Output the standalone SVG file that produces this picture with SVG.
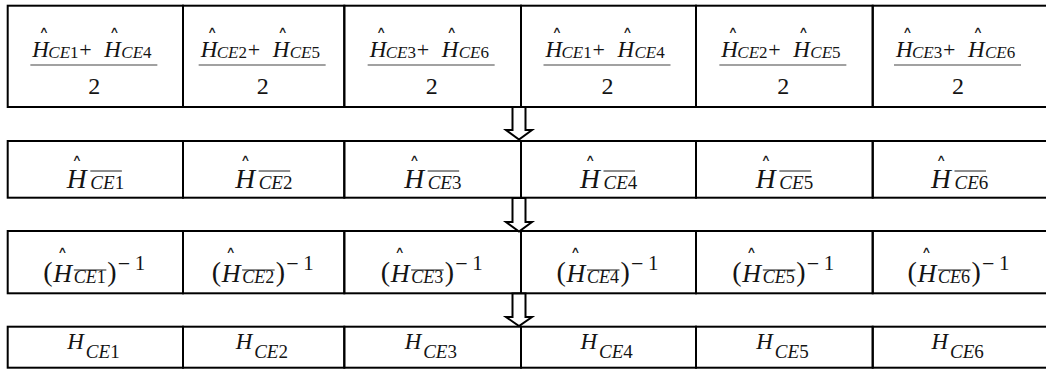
<svg xmlns="http://www.w3.org/2000/svg" width="1046" height="369" viewBox="0 0 1046 369">
<style>
.cell{fill:none;stroke:#000;stroke-width:2}
text{font-family:"Liberation Serif","Times New Roman",serif;fill:#141414}
.h{font-style:italic}
.s{font-style:italic}
.d{font-style:normal}
.hat{font-family:"DejaVu Sans",sans-serif;font-size:9px;text-anchor:middle}
.bar{stroke:#444;stroke-width:1.2}
.ol{stroke:#1a1a1a;stroke-width:1}
.arrow{fill:#fff;stroke:#000;stroke-width:2;stroke-linejoin:miter}
.r1h{font-size:23px}.r1s{font-size:17px}.r1op{font-size:22px}.r1den{font-size:24px;text-anchor:middle}
.r2h{font-size:27.5px}.r2s{font-size:19px}
.r3h{font-size:26px}.r3s{font-size:18px}.r3p{font-size:28px}.r3m{font-size:22px}.r3e{font-size:21px}
.r4h{font-size:23px}.r4s{font-size:19px}
</style>
<defs>
<g id="r1frame">
<line class="bar" x1="-63.5" y1="65" x2="63.5" y2="65"/>
<text class="r1den" x="0.5" y="94">2</text>
<text class="hat" transform="translate(-50,33) scale(1.5,1)">∧</text>
<text class="hat" transform="translate(20.5,33) scale(1.5,1)">∧</text>
</g>
<g id="r2frame">
<text class="hat" transform="translate(-18.3,161) scale(1.5,1)">∧</text>
<line class="ol" x1="-5" y1="171" x2="26.5" y2="171"/>
</g>
<g id="r3frame">
<text class="hat" transform="translate(-33,253) scale(1.5,1)">∧</text>
<line class="ol" x1="-21.5" y1="270" x2="11" y2="270"/>
</g>
</defs>
<rect width="1046" height="369" fill="#fff"/>

<!-- Row 1 -->
<g id="r1c1">
<rect class="cell" x="7.7" y="5.7" width="175.3" height="101.3"/>
<g transform="translate(93.85,0)">
<text><tspan class="h r1h" x="-61.5" y="57">H</tspan><tspan class="s r1s" x="-45.5" y="58">CE<tspan class="d">1</tspan></tspan><tspan class="r1op" x="-14.5" y="57">+</tspan><tspan class="h r1h" x="10.5" y="57">H</tspan><tspan class="s r1s" x="27.5" y="58">CE<tspan class="d">4</tspan></tspan></text>
<use href="#r1frame"/>
</g>
</g>
<g id="r1c2">
<rect class="cell" x="183" y="5.7" width="161.3" height="101.3"/>
<g transform="translate(262.15,0)">
<text><tspan class="h r1h" x="-61.5" y="57">H</tspan><tspan class="s r1s" x="-45.5" y="58">CE<tspan class="d">2</tspan></tspan><tspan class="r1op" x="-14.5" y="57">+</tspan><tspan class="h r1h" x="10.5" y="57">H</tspan><tspan class="s r1s" x="27.5" y="58">CE<tspan class="d">5</tspan></tspan></text>
<use href="#r1frame"/>
</g>
</g>
<g id="r1c3">
<rect class="cell" x="344.3" y="5.7" width="176.7" height="101.3"/>
<g transform="translate(431.15,0)">
<text><tspan class="h r1h" x="-61.5" y="57">H</tspan><tspan class="s r1s" x="-45.5" y="58">CE<tspan class="d">3</tspan></tspan><tspan class="r1op" x="-14.5" y="57">+</tspan><tspan class="h r1h" x="10.5" y="57">H</tspan><tspan class="s r1s" x="27.5" y="58">CE<tspan class="d">6</tspan></tspan></text>
<use href="#r1frame"/>
</g>
</g>
<g id="r1c4">
<rect class="cell" x="521" y="5.7" width="175" height="101.3"/>
<g transform="translate(607,0)">
<text><tspan class="h r1h" x="-61.5" y="57">H</tspan><tspan class="s r1s" x="-45.5" y="58">CE<tspan class="d">1</tspan></tspan><tspan class="r1op" x="-14.5" y="57">+</tspan><tspan class="h r1h" x="10.5" y="57">H</tspan><tspan class="s r1s" x="27.5" y="58">CE<tspan class="d">4</tspan></tspan></text>
<use href="#r1frame"/>
</g>
</g>
<g id="r1c5">
<rect class="cell" x="696" y="5.7" width="176.7" height="101.3"/>
<g transform="translate(782.85,0)">
<text><tspan class="h r1h" x="-61.5" y="57">H</tspan><tspan class="s r1s" x="-45.5" y="58">CE<tspan class="d">2</tspan></tspan><tspan class="r1op" x="-14.5" y="57">+</tspan><tspan class="h r1h" x="10.5" y="57">H</tspan><tspan class="s r1s" x="27.5" y="58">CE<tspan class="d">5</tspan></tspan></text>
<use href="#r1frame"/>
</g>
</g>
<g id="r1c6">
<rect class="cell" x="872.7" y="5.7" width="175.3" height="101.3"/>
<g transform="translate(957.5,0)">
<text><tspan class="h r1h" x="-61.5" y="57">H</tspan><tspan class="s r1s" x="-45.5" y="58">CE<tspan class="d">3</tspan></tspan><tspan class="r1op" x="-14.5" y="57">+</tspan><tspan class="h r1h" x="10.5" y="57">H</tspan><tspan class="s r1s" x="27.5" y="58">CE<tspan class="d">6</tspan></tspan></text>
<use href="#r1frame"/>
</g>
</g>

<!-- Row 2 -->
<g id="r2c1">
<rect class="cell" x="7.7" y="141" width="175.3" height="56.7"/>
<g transform="translate(95.35,0)"><text><tspan class="h r2h" x="-28.5" y="188">H</tspan><tspan class="s r2s" x="-5" y="189">CE<tspan class="d">1</tspan></tspan></text><use href="#r2frame"/></g>
</g>
<g id="r2c2">
<rect class="cell" x="183" y="141" width="161.3" height="56.7"/>
<g transform="translate(263.65,0)"><text><tspan class="h r2h" x="-28.5" y="188">H</tspan><tspan class="s r2s" x="-5" y="189">CE<tspan class="d">2</tspan></tspan></text><use href="#r2frame"/></g>
</g>
<g id="r2c3">
<rect class="cell" x="344.3" y="141" width="176.7" height="56.7"/>
<g transform="translate(432.65,0)"><text><tspan class="h r2h" x="-28.5" y="188">H</tspan><tspan class="s r2s" x="-5" y="189">CE<tspan class="d">3</tspan></tspan></text><use href="#r2frame"/></g>
</g>
<g id="r2c4">
<rect class="cell" x="521" y="141" width="175" height="56.7"/>
<g transform="translate(608.5,0)"><text><tspan class="h r2h" x="-28.5" y="188">H</tspan><tspan class="s r2s" x="-5" y="189">CE<tspan class="d">4</tspan></tspan></text><use href="#r2frame"/></g>
</g>
<g id="r2c5">
<rect class="cell" x="696" y="141" width="176.7" height="56.7"/>
<g transform="translate(784.35,0)"><text><tspan class="h r2h" x="-28.5" y="188">H</tspan><tspan class="s r2s" x="-5" y="189">CE<tspan class="d">5</tspan></tspan></text><use href="#r2frame"/></g>
</g>
<g id="r2c6">
<rect class="cell" x="872.7" y="141" width="175.3" height="56.7"/>
<g transform="translate(959.5,0)"><text><tspan class="h r2h" x="-28.5" y="188">H</tspan><tspan class="s r2s" x="-5" y="189">CE<tspan class="d">6</tspan></tspan></text><use href="#r2frame"/></g>
</g>

<!-- Row 3 -->
<g id="r3c1">
<rect class="cell" x="7.7" y="231" width="175.3" height="62.3"/>
<g transform="translate(95.35,0)"><text><tspan class="r3p" x="-52" y="281">(</tspan><tspan class="h r3h" x="-42" y="282">H</tspan><tspan class="s r3s" x="-21.5" y="283">CE<tspan class="d">1</tspan></tspan><tspan class="r3p" x="12" y="281">)</tspan><tspan class="r3m" x="22.5" y="270.5">−</tspan><tspan class="r3e" x="39.5" y="270">1</tspan></text><use href="#r3frame"/></g>
</g>
<g id="r3c2">
<rect class="cell" x="183" y="231" width="161.3" height="62.3"/>
<g transform="translate(263.65,0)"><text><tspan class="r3p" x="-52" y="281">(</tspan><tspan class="h r3h" x="-42" y="282">H</tspan><tspan class="s r3s" x="-21.5" y="283">CE<tspan class="d">2</tspan></tspan><tspan class="r3p" x="12" y="281">)</tspan><tspan class="r3m" x="22.5" y="270.5">−</tspan><tspan class="r3e" x="39.5" y="270">1</tspan></text><use href="#r3frame"/></g>
</g>
<g id="r3c3">
<rect class="cell" x="344.3" y="231" width="176.7" height="62.3"/>
<g transform="translate(432.65,0)"><text><tspan class="r3p" x="-52" y="281">(</tspan><tspan class="h r3h" x="-42" y="282">H</tspan><tspan class="s r3s" x="-21.5" y="283">CE<tspan class="d">3</tspan></tspan><tspan class="r3p" x="12" y="281">)</tspan><tspan class="r3m" x="22.5" y="270.5">−</tspan><tspan class="r3e" x="39.5" y="270">1</tspan></text><use href="#r3frame"/></g>
</g>
<g id="r3c4">
<rect class="cell" x="521" y="231" width="175" height="62.3"/>
<g transform="translate(608.5,0)"><text><tspan class="r3p" x="-52" y="281">(</tspan><tspan class="h r3h" x="-42" y="282">H</tspan><tspan class="s r3s" x="-21.5" y="283">CE<tspan class="d">4</tspan></tspan><tspan class="r3p" x="12" y="281">)</tspan><tspan class="r3m" x="22.5" y="270.5">−</tspan><tspan class="r3e" x="39.5" y="270">1</tspan></text><use href="#r3frame"/></g>
</g>
<g id="r3c5">
<rect class="cell" x="696" y="231" width="176.7" height="62.3"/>
<g transform="translate(784.35,0)"><text><tspan class="r3p" x="-52" y="281">(</tspan><tspan class="h r3h" x="-42" y="282">H</tspan><tspan class="s r3s" x="-21.5" y="283">CE<tspan class="d">5</tspan></tspan><tspan class="r3p" x="12" y="281">)</tspan><tspan class="r3m" x="22.5" y="270.5">−</tspan><tspan class="r3e" x="39.5" y="270">1</tspan></text><use href="#r3frame"/></g>
</g>
<g id="r3c6">
<rect class="cell" x="872.7" y="231" width="175.3" height="62.3"/>
<g transform="translate(959.5,0)"><text><tspan class="r3p" x="-52" y="281">(</tspan><tspan class="h r3h" x="-42" y="282">H</tspan><tspan class="s r3s" x="-21.5" y="283">CE<tspan class="d">6</tspan></tspan><tspan class="r3p" x="12" y="281">)</tspan><tspan class="r3m" x="22.5" y="270.5">−</tspan><tspan class="r3e" x="39.5" y="270">1</tspan></text><use href="#r3frame"/></g>
</g>

<!-- Row 4 -->
<g id="r4c1">
<rect class="cell" x="7.7" y="326.7" width="175.3" height="41"/>
<g transform="translate(95.35,0)"><text><tspan class="h r4h" x="-28" y="349">H</tspan><tspan class="s r4s" x="-9.5" y="358">CE<tspan class="d">1</tspan></tspan></text></g>
</g>
<g id="r4c2">
<rect class="cell" x="183" y="326.7" width="161.3" height="41"/>
<g transform="translate(263.65,0)"><text><tspan class="h r4h" x="-28" y="349">H</tspan><tspan class="s r4s" x="-9.5" y="358">CE<tspan class="d">2</tspan></tspan></text></g>
</g>
<g id="r4c3">
<rect class="cell" x="344.3" y="326.7" width="176.7" height="41"/>
<g transform="translate(432.65,0)"><text><tspan class="h r4h" x="-28" y="349">H</tspan><tspan class="s r4s" x="-9.5" y="358">CE<tspan class="d">3</tspan></tspan></text></g>
</g>
<g id="r4c4">
<rect class="cell" x="521" y="326.7" width="175" height="41"/>
<g transform="translate(608.5,0)"><text><tspan class="h r4h" x="-28" y="349">H</tspan><tspan class="s r4s" x="-9.5" y="358">CE<tspan class="d">4</tspan></tspan></text></g>
</g>
<g id="r4c5">
<rect class="cell" x="696" y="326.7" width="176.7" height="41"/>
<g transform="translate(784.35,0)"><text><tspan class="h r4h" x="-28" y="349">H</tspan><tspan class="s r4s" x="-9.5" y="358">CE<tspan class="d">5</tspan></tspan></text></g>
</g>
<g id="r4c6">
<rect class="cell" x="872.7" y="326.7" width="175.3" height="41"/>
<g transform="translate(959.5,0)"><text><tspan class="h r4h" x="-28" y="349">H</tspan><tspan class="s r4s" x="-9.5" y="358">CE<tspan class="d">6</tspan></tspan></text></g>
</g>

<!-- Connectors -->
<g id="connectors">
<path class="arrow" d="M512.5,107 V130 H506 L519,139.5 L532,130 H525.5 V107 Z"/>
<path class="arrow" d="M512.5,198 V222 H506 L519,231.5 L532,222 H525.5 V198 Z"/>
<path class="arrow" d="M512.5,293.5 V317 H506 L519,326 L532,317 H525.5 V293.5 Z"/>
</g>
</svg>
